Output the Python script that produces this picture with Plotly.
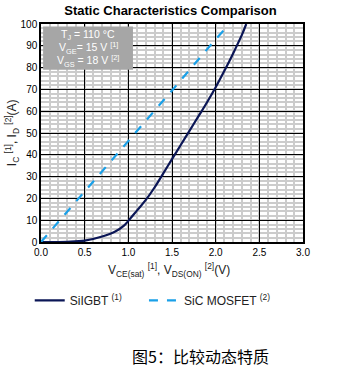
import plotly.graph_objects as go

# ---- data ----
igbt_v = [0.0, 0.3, 0.5, 0.7, 0.85, 0.95, 1.0, 1.1, 1.2, 1.3, 1.4, 1.5, 1.6, 1.7, 1.8, 1.9, 2.0, 2.1, 2.2, 2.3, 2.35]
igbt_i = [0.0, 0.1, 0.6, 2.5, 4.8, 7.5, 9.7, 14.5, 19.3, 25.0, 31.5, 38.0, 44.5, 51.0, 57.5, 64.0, 71.0, 78.5, 86.5, 95.0, 100.0]
mos_v = [0.0, 0.5, 1.0, 1.5, 2.0, 2.16]
mos_i = [0.0, 23.0, 46.0, 69.5, 93.0, 100.0]
x_ticks = [0.0, 0.5, 1.0, 1.5, 2.0, 2.5, 3.0]
y_ticks = [0, 10, 20, 30, 40, 50, 60, 70, 80, 90, 100]
emph_x = 1.5
emph_y = 60

fig = go.Figure()
fig.add_trace(go.Scatter(x=igbt_v, y=igbt_i, mode="lines", name="SiIGBT <sup>(1)</sup>",
                         legend="legend",
                         line=dict(color="#0b1656", width=2.2, shape="spline")))
fig.add_trace(go.Scatter(x=mos_v, y=mos_i, mode="lines", name="SiC MOSFET <sup>(2)</sup>",
                         legend="legend2",
                         line=dict(color="#1aa0e8", width=2.2, dash="dash")))

fig.add_vline(x=emph_x, line=dict(color="#808080", width=2), layer="below")
fig.add_hline(y=emph_y, line=dict(color="#808080", width=2), layer="below")

axis_common = dict(showline=True, linecolor="black", linewidth=1.5, mirror=True,
                   gridcolor="black", gridwidth=1.3, zeroline=False, ticks="",
                   tickfont=dict(family="Arial", size=10, color="black"))
fig.update_xaxes(range=[0, 3.0], tickvals=x_ticks, tickformat=".1f",
                 minor=dict(dtick=0.1, showgrid=True, gridcolor="#cccccc", gridwidth=1.5),
                 **axis_common)
fig.update_yaxes(range=[0, 100], tickvals=y_ticks,
                 minor=dict(dtick=2, showgrid=True, gridcolor="#cccccc", gridwidth=1.5),
                 **axis_common)

# info box
fig.add_shape(type="rect", xref="paper", yref="paper", x0=0.008, x1=0.351, y0=0.79, y1=0.988,
              fillcolor="#a6a6a6", line=dict(width=0), layer="above")
box_lines = ["T<sub>J</sub> = 110 °C", "V<sub>GE</sub>= 15 V <sup>[1]</sup>", "V<sub>GS</sub> = 18 V <sup>[2]</sup>"]
for k, t in enumerate(box_lines):
    fig.add_annotation(xref="paper", yref="paper", x=0.18, y=0.95 - k * 0.06, text=t,
                       showarrow=False, font=dict(family="Arial", size=10.5, color="white"),
                       xanchor="center", yanchor="middle")

legend_common = dict(orientation="h", y=-0.268, xanchor="left", yanchor="middle",
                     font=dict(family="Arial", size=12, color="#222"), itemwidth=30,
                     bgcolor="rgba(0,0,0,0)")
fig.update_layout(
    width=341, height=373,
    margin=dict(l=41, r=38, t=24, b=131),
    paper_bgcolor="white", plot_bgcolor="white",
    title=dict(text="<b>Static Characteristics Comparison</b>", x=0.5, xanchor="center",
               y=1 - 10 / 373, yanchor="middle", font=dict(family="Arial", size=13, color="black")),
    showlegend=True,
    legend=dict(x=-0.043, **legend_common),
    legend2=dict(x=0.393, **legend_common),
)

fig.add_annotation(xref="paper", yref="paper", x=0.49, y=-0.13,
                   text="V<sub>CE(sat)</sub> <sup>[1]</sup>, V<sub>DS(ON)</sub> <sup>[2]</sup>(V)",
                   showarrow=False, font=dict(family="Arial", size=12, color="#222"),
                   xanchor="center", yanchor="middle")
fig.add_annotation(xref="paper", yref="paper", x=-0.11, y=0.5,
                   text="I<sub>C</sub> <sup>[1]</sup>, I<sub>D</sub> <sup>[2]</sup>(A)",
                   showarrow=False, textangle=-90, font=dict(family="Arial", size=12, color="#222"),
                   xanchor="center", yanchor="middle")
fig.add_annotation(xref="paper", yref="paper", x=0.61, y=-0.525,
                   text="图5：比较动态特质", showarrow=False,
                   font=dict(family="Noto Sans CJK SC", size=16, color="black"),
                   xanchor="center", yanchor="middle")

fig.write_html("out.html")
